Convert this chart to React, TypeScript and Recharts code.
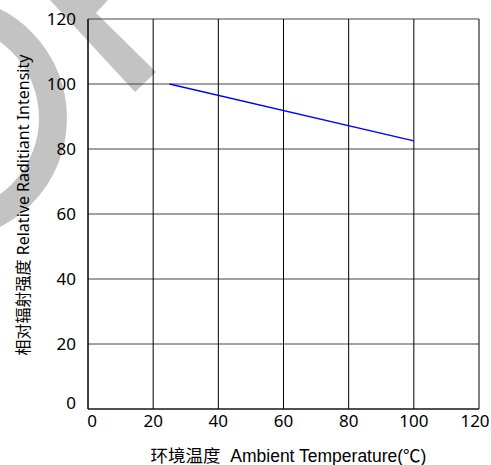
import React from "react";
import { LineChart, Line, XAxis, YAxis, CartesianGrid, Label } from "recharts";

// 环境温度 (°C) / 相对辐射强度 (%)
const temperatures = [25, 100];
const intensities = [100, 82.5];
const ticks = [0, 20, 40, 60, 80, 100, 120];

const data = temperatures.map((t, i) => ({ t, v: intensities[i] }));

const TICK_FONT = "'Noto Sans', 'Open Sans', sans-serif";
const LABEL_FONT = "'Noto Sans', 'Noto Sans CJK SC', sans-serif";
const XLABEL_FONT = "'Liberation Sans', 'Noto Sans CJK SC', sans-serif";

// edge labels are nudged inward, like the original
function XTick(props: any) {
  const { x, y, payload } = props;
  const shift = payload.value === 0 ? 4 : payload.value === 120 ? -4 : 0;
  return (
    <text x={x + shift} y={y} dy="0.71em" textAnchor="middle" fontSize={17} fontFamily={TICK_FONT} fill="#000">
      {payload.value}
    </text>
  );
}

function YTick(props: any) {
  const { x, y, payload } = props;
  const shift = payload.value === 0 ? -6 : 0;
  return (
    <text x={x} y={y + shift} dy="0.355em" textAnchor="end" fontSize={17} fontFamily={TICK_FONT} fill="#000">
      {payload.value}
    </text>
  );
}

function XTitle(props: any) {
  const { viewBox } = props;
  const cx = viewBox.x + viewBox.width / 2 + 5;
  return (
    <text x={cx} y={456} textAnchor="middle" dominantBaseline="central" fontSize={17.5} fontFamily={XLABEL_FONT} fill="#000">
      {"环境温度\u00a0\u00a0Ambient Temperature(℃)"}
    </text>
  );
}

function YTitle(props: any) {
  const { viewBox } = props;
  const cx = 23;
  const cy = viewBox.y + viewBox.height / 2 - 9;
  return (
    <text
      x={cx}
      y={cy}
      transform={`rotate(-90 ${cx} ${cy})`}
      textAnchor="middle"
      dominantBaseline="central"
      fontSize={16}
      fontFamily={LABEL_FONT}
      fill="#000"
    >
      相对辐射强度 Relative Raditiant Intensity
    </text>
  );
}

// grey watermark behind the chart
function Watermark() {
  return (
    <svg width={491} height={465} style={{ position: "absolute", left: 0, top: 0 }}>
      <circle cx={-55} cy={118} r={108} fill="none" stroke="#c3c3c3" strokeWidth={28} />
      <polygon points="50,0 108,0 96,13 156,72 135,92" fill="#c3c3c3" />
    </svg>
  );
}

export default function App() {
  return (
    <div style={{ position: "absolute", left: 0, top: 0, width: 491, height: 465, background: "#fff", overflow: "hidden" }}>
      <Watermark />
      <div style={{ position: "absolute", left: 0, top: 0 }}>
        <LineChart width={491} height={465} data={data} margin={{ top: 19, right: 12, bottom: 0, left: 0 }}>
          <CartesianGrid vertical={false} stroke="#444" strokeWidth={1} />
          <CartesianGrid horizontal={false} stroke="#000" strokeWidth={1} />
          <XAxis
            dataKey="t"
            type="number"
            domain={[0, 120]}
            ticks={ticks}
            height={56}
            tickSize={0}
            tickMargin={6}
            axisLine={{ stroke: "#000" }}
            tick={<XTick />}
            interval={0}
          >
            <Label content={<XTitle />} />
          </XAxis>
          <YAxis
            type="number"
            domain={[0, 120]}
            ticks={ticks}
            width={88}
            tickSize={0}
            tickMargin={12}
            axisLine={{ stroke: "#000" }}
            tick={<YTick />}
            interval={0}
          >
            <Label content={<YTitle />} />
          </YAxis>
          <Line
            type="linear"
            dataKey="v"
            stroke="#0000ff"
            strokeWidth={1.3}
            dot={false}
            isAnimationActive={false}
          />
        </LineChart>
      </div>
    </div>
  );
}
